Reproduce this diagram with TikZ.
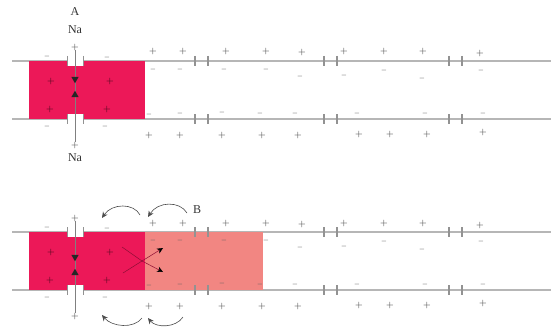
\documentclass[tikz,border=0pt]{standalone}
\usepackage{fontspec}
\setmainfont{Liberation Serif}
\usetikzlibrary{arrows.meta,shapes.geometric}
\definecolor{axon}{RGB}{236,24,88}
\definecolor{axonlight}{RGB}{242,134,130}
\definecolor{membr}{RGB}{182,182,182}
\definecolor{iongray}{RGB}{95,95,95}

\begin{document}
\begin{tikzpicture}[x=1pt, y=-1pt]
	\tikzset{
		lbl/.style={font=\fontsize{12}{14}\selectfont, text=black!80, inner sep=0pt},
		ion/.style={font=\fontsize{8.5}{8.5}\selectfont\boldmath, text=iongray, inner sep=0pt},
		ionin/.style={ion, text=axon!40!black},
		mem/.style={draw=membr, line width=1.8pt},
		brk/.style={draw=membr!80!black, line width=1.1pt},
		na/.style={regular polygon, regular polygon sides=3, fill=black!85, inner sep=0pt, minimum size=8.5pt},
		flow/.style={-{Stealth[length=6pt, width=5.5pt]}, black!70, line width=0.6pt},
	}
	\useasboundingbox (0,0) rectangle (551,329);

	% two copies of the fibre: resting (a) and spreading (b)
	\foreach \dy/\pn/\op/\ty in {0/a/0/0, 171/b/1/7}{
		\draw[mem] (12,61+\dy) -- (551,61+\dy);
		\draw[mem] (12,119+\dy) -- (551,119+\dy);
		\fill[axon] (29,61+\dy) rectangle (145,119+\dy);
		\fill[axonlight, fill opacity=\op] (145,61+\dy) rectangle (263,119+\dy);

		% channel through the membrane
		\fill[white] (67,55+\dy) rectangle (83,66+\dy);
		\fill[white] (67,114+\dy) rectangle (83,125+\dy);
		\foreach \x in {67,83}{
			\draw[brk, line width=0.8pt] (\x,56+\dy) -- (\x,66+\dy);
			\draw[brk, line width=0.8pt] (\x,114+\dy) -- (\x,124+\dy);
		}

		% breaks along the fibre
		\foreach \x in {195,208,324,337,449,462}{
			\draw[brk] (\x,56+\dy) -- (\x,66+\dy);
			\draw[brk] (\x,114+\dy) -- (\x,124+\dy);
		}

		% charges
		\foreach \x/\y [count=\i] in {75/47, 153/52, 183/52, 226/52, 266/52, 302/53,
			344/52, 384/52, 423/52, 480/54}
			\node[ion] (\pn-po\i) at (\x,\y+\dy) {$+$};
		\foreach \x/\y [count=\i] in {47/57, 107/58, 153/70, 180/70, 224/70, 266/70,
			300/77, 344/76, 384/71, 422/79, 481/71}
			\node[ion] (\pn-mo\i) at (\x,\y+\dy) {\textendash};
		\foreach \x/\y [count=\i] in {51/81, 110/81, 50/109, 107/109}
			\node[ionin] (\pn-pi\i) at (\x,\y+\dy) {$+$};
		\foreach \x/\y [count=\i] in {47/127, 105/127, 149/115, 180/114, 222/113,
			260/114, 295/114, 357/114, 425/114, 483/114}
			\node[ion] (\pn-ml\i) at (\x,\y+\dy) {\textendash};
		\foreach \x/\y [count=\i] in {75/145, 149/135, 180/135, 222/135, 262/135,
			298/135, 359/134, 390/134, 427/134, 483/132}
			\node[ion] (\pn-pl\i) at (\x,\y+\dy) {$+$};

		\draw[black!50, line width=0.4pt] (\pn-po1) -- (\pn-pl1);

		% sodium going in
		\node[na, shape border rotate=180] (\pn-nain) at (75,79+\ty+\dy) {};
		\node[na] (\pn-naup) at (75,95+\ty+\dy) {};
	}

	\node[lbl] (A) at (75,12) {A};
	\node[lbl] (na1) at (75,30) {Na};
	\node[lbl] (na2) at (75,158) {Na};
	\node[lbl] (B) at (197,210) {B};

	% local currents outside
	\coordinate (s1) at (140,215); \coordinate (e1) at (102,218);
	\coordinate (s2) at (187,213); \coordinate (e2) at (148,217);
	\coordinate (s3) at (142,318); \coordinate (e3) at (102,315);
	\coordinate (s4) at (183,317); \coordinate (e4) at (148,318);
	\draw[flow] (s1) .. controls (134,203) and (112,203) .. (e1);
	\draw[flow] (s2) .. controls (180,201) and (158,201) .. (e2);
	\draw[flow] (s3) .. controls (134,329) and (112,327) .. (e3);
	\draw[flow] (s4) .. controls (176,328) and (156,328) .. (e4);

	% local currents inside
	\coordinate (x0) at (142,261);
	\coordinate (x1) at (122,247); \coordinate (x2) at (123,273);
	\coordinate (y1) at (163,248); \coordinate (y2) at (163,272);
	\draw[axon!60!black, line width=0.5pt] (x1) -- (x0) -- (x2);
	\draw[axon!60!black, line width=0.5pt, -{Stealth[length=6pt, width=5.5pt, color=black]}] (x0) -- (y1);
	\draw[axon!60!black, line width=0.5pt, -{Stealth[length=6pt, width=5.5pt, color=black]}] (x0) -- (y2);
\end{tikzpicture}
\end{document}
